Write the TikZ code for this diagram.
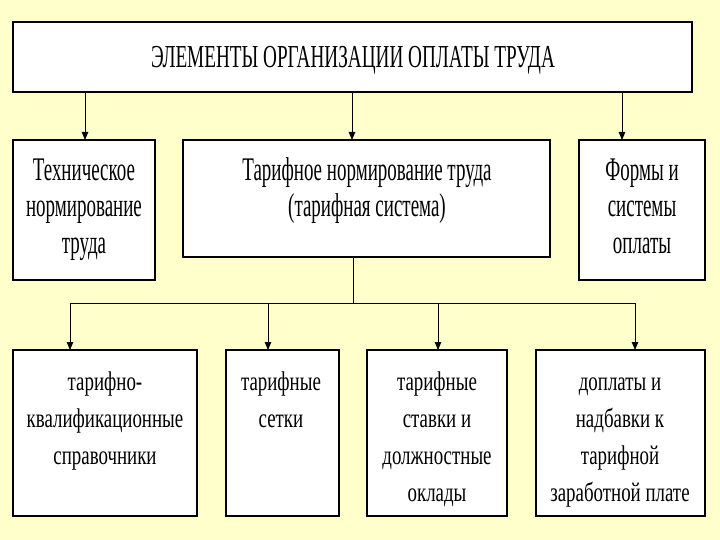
\documentclass[tikz,border=0pt]{standalone}
\usepackage{fontspec}
\setmainfont{Liberation Serif}
\newfontfamily\titlefont[FakeStretch=0.60]{Liberation Serif}
\newfontfamily\bigfont[FakeStretch=0.575]{Liberation Serif}
\newfontfamily\smallfont[FakeStretch=0.70]{Liberation Serif}
\usetikzlibrary{arrows.meta}
\definecolor{bgyellow}{HTML}{FFFFCC}
\tikzset{
  box/.style={draw=black, line width=1.3pt, fill=white, inner sep=0pt},
  conn/.style={line width=0.9pt},
  arr/.style={conn, -{Triangle[length=8pt,width=6.5pt]}},
  txt/.style={align=center, inner sep=0pt, anchor=north},
  bigtxt/.style={txt, font=\bigfont\fontsize{33}{36.5}\selectfont},
  smalltxt/.style={txt, font=\smallfont\fontsize{27}{37}\selectfont},
}
\begin{document}
\begin{tikzpicture}[x=1pt,y=-1pt]
\fill[bgyellow] (0,0) rectangle (720,540);
\useasboundingbox (0,0) rectangle (720,540);
% boxes
\draw[box] (13,22) rectangle (692,92);
\node[inner sep=0pt, anchor=base, font=\titlefont\fontsize{32}{36}\selectfont] (ttl) at (353,68) {ЭЛЕМЕНТЫ ОРГАНИЗАЦИИ ОПЛАТЫ ТРУДА};

\draw[box] (13,140) rectangle (155,280);
\draw[box] (183,140) rectangle (550,257);
\draw[box] (579,140) rectangle (705,280);

\node[bigtxt] (a) at (84,154.5) {\strut Техническое\\нормирование\\труда};
\node[bigtxt] (b) at (367,154.5) {\strut Тарифное нормирование труда\\(тарифная система)};
\node[bigtxt] (c) at (642,154.5) {\strut Формы и\\системы\\оплаты};

\draw[box] (13,350) rectangle (197,516);
\draw[box] (226,350) rectangle (339,516);
\draw[box] (367,350) rectangle (507,516);
\draw[box] (536,350) rectangle (705,516);

\node[smalltxt] (d) at (105,364) {\strut тарифно-\\квалификационные\\справочники};
\node[smalltxt] (e) at (281,364) {\strut тарифные\\сетки};
\node[smalltxt] (f) at (437,364) {\strut тарифные\\ставки и\\должностные\\оклады};
\node[smalltxt] (g) at (620,364) {\strut доплаты и\\надбавки к\\тарифной\\заработной плате};

% named anchor coordinates
\coordinate (t1) at (85,92);   \coordinate (a1) at (85,140);
\coordinate (t2) at (352,92);  \coordinate (b1) at (352,140);
\coordinate (t3) at (622,92);  \coordinate (c1) at (622,140);
\coordinate (b2) at (353,257); \coordinate (hub) at (353,303);
\coordinate (hl) at (70,303);  \coordinate (hr) at (635,303);
\coordinate (d1) at (70,350);  \coordinate (e1) at (268,350);
\coordinate (f1) at (438,350); \coordinate (g1) at (635,350);
\coordinate (he) at (268,303); \coordinate (hf) at (438,303);

\draw[arr] (t1) -- (a1);
\draw[arr] (t2) -- (b1);
\draw[arr] (t3) -- (c1);
\draw[conn] (b2) -- (hub);
\draw[conn] (hl) -- (hr);
\draw[arr] (hl) -- (d1);
\draw[arr] (he) -- (e1);
\draw[arr] (hf) -- (f1);
\draw[arr] (hr) -- (g1);
\end{tikzpicture}
\end{document}
